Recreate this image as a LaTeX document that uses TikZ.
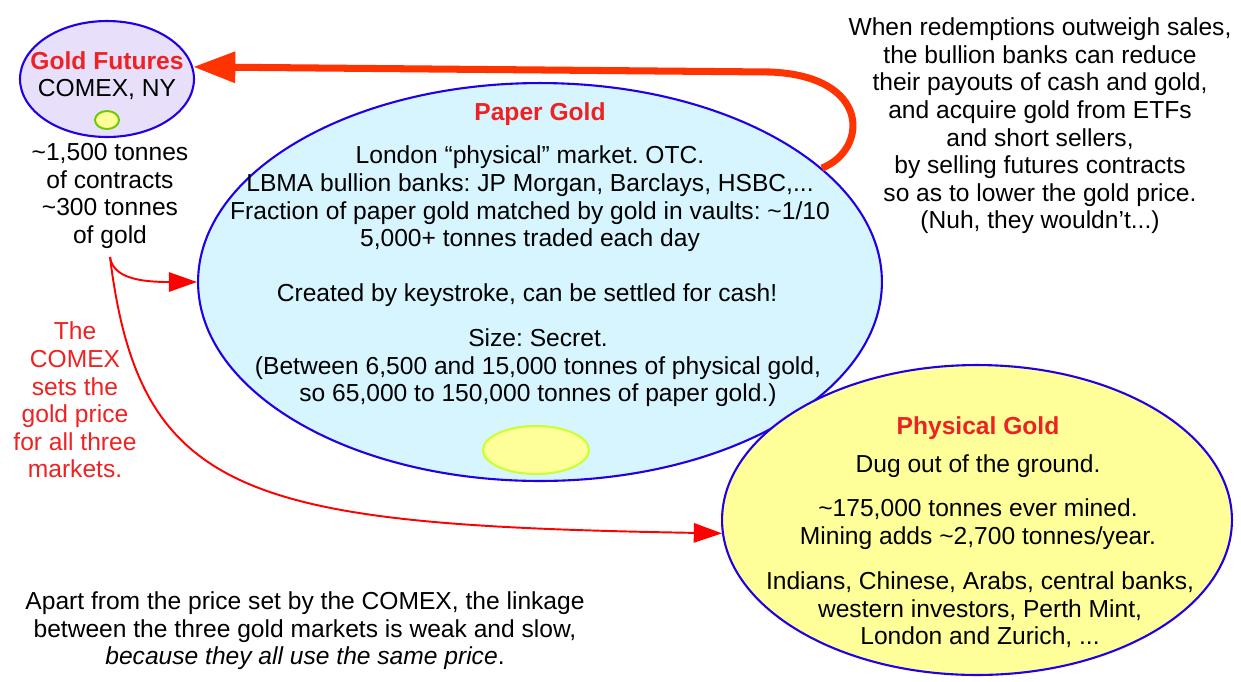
\documentclass[tikz,border=0pt]{standalone}
\usepackage{fontspec}
\setmainfont{Liberation Sans}
\usetikzlibrary{shapes.geometric,arrows.meta}
\definecolor{ttlred}{RGB}{238,34,34}
\definecolor{edgeblue}{RGB}{34,0,230}
\definecolor{lav}{RGB}{232,224,250}
\definecolor{paperfill}{RGB}{214,245,255}
\definecolor{yel}{RGB}{255,255,153}
\definecolor{smallgreen}{RGB}{102,204,0}
\definecolor{yelgreen}{RGB}{204,255,51}
\definecolor{arrowred}{RGB}{255,51,0}
\frenchspacing
\begin{document}
\begin{tikzpicture}[x=0.02cm,y=-0.02cm,
  font=\fontsize{14}{15.7}\selectfont,
  bigell/.style={ellipse, draw=edgeblue, line width=1.2pt, inner sep=0},
  txt/.style={align=center, inner sep=0},
  ttl/.style={txt, font=\fontsize{14}{15.7}\selectfont\bfseries, text=ttlred},
  redarr/.style={draw=red, line width=1.1pt, -{Triangle[length=16pt,width=11pt]}},
  bigarr/.style={draw=arrowred, line width=4pt, -{Triangle[length=24pt,width=17pt]}},
]
\useasboundingbox (0,0) rectangle (1241,681);

% ellipses
\node[bigell, fill=lav, minimum width=3.48cm, minimum height=2.32cm] (gf) at (107,79) {};
\node[ellipse, draw=smallgreen, fill=yel, line width=1.1pt, minimum width=0.48cm, minimum height=0.36cm, inner sep=0] (gfsmall) at (107,120) {};
\node[bigell, fill=paperfill, minimum width=13.68cm, minimum height=7.96cm] (paper) at (540,282) {};
\node[ellipse, draw=yelgreen, fill=yel, line width=1.2pt, minimum width=2.12cm, minimum height=0.96cm, inner sep=0] (papersmall) at (536,450) {};
\node[bigell, fill=yel, minimum width=10.2cm, minimum height=6.2cm] (phys) at (977,520) {};

% Gold futures text
\node[ttl] (gftitle) at (107,61) {Gold Futures};
\node[txt] (gfsub) at (107,89) {COMEX, NY};
\node[txt] (gtext) at (110,196) {\textasciitilde1,500 tonnes\\of contracts\\\textasciitilde300 tonnes\\of gold};

% Paper gold text
\node[ttl] (pgtitle) at (540,114) {Paper Gold};
\node[txt] (pg1) at (530,199) {London “physical” market. OTC.\\LBMA bullion banks: JP Morgan, Barclays, HSBC,...\\Fraction of paper gold matched by gold in vaults: \textasciitilde1/10\\5,000+ tonnes traded each day};
\node[txt] (pg2) at (527,295) {Created by keystroke, can be settled for cash!};
\node[txt] (pg3) at (538,368) {Size: Secret.\\(Between 6,500 and 15,000 tonnes of physical gold,\\so 65,000 to 150,000 tonnes of paper gold.)};

% Physical gold text
\node[ttl] (phtitle) at (978,428) {Physical Gold};
\node[txt] (ph1) at (978,466) {Dug out of the ground.};
\node[txt] (ph2) at (978,524) {\textasciitilde175,000 tonnes ever mined.\\Mining adds \textasciitilde2,700 tonnes/year.};
\node[txt] (ph3) at (980,610) {Indians, Chinese, Arabs, central banks,\\western investors, Perth Mint,\\London and Zurich, ...};

% right top text
\node[txt] (rtext) at (1040,126) {When redemptions outweigh sales,\\the bullion banks can reduce\\their payouts of cash and gold,\\and acquire gold from ETFs\\and short sellers,\\by selling futures contracts\\so as to lower the gold price.\\(Nuh, they wouldn’t...)};

% left red text
\node[txt, text=ttlred] (ltext) at (75,400) {The\\COMEX\\sets the\\gold price\\for all three\\markets.};

% bottom text
\node[txt] (btext) at (305,631) {Apart from the price set by the COMEX, the linkage\\between the three gold markets is weak and slow,\\\textit{because they all use the same price}.};

% connectors
\coordinate (s) at (110,257);
\draw[redarr] (s) .. controls (113,278) and (140,282) .. (paper.west);
\draw[redarr] (s) .. controls (140,500) and (250,525) .. (phys.183);
\draw[bigarr] (paper.22) .. controls (868,150) and (872,76) .. (770,72) -- (gf.8);
\end{tikzpicture}
\end{document}
